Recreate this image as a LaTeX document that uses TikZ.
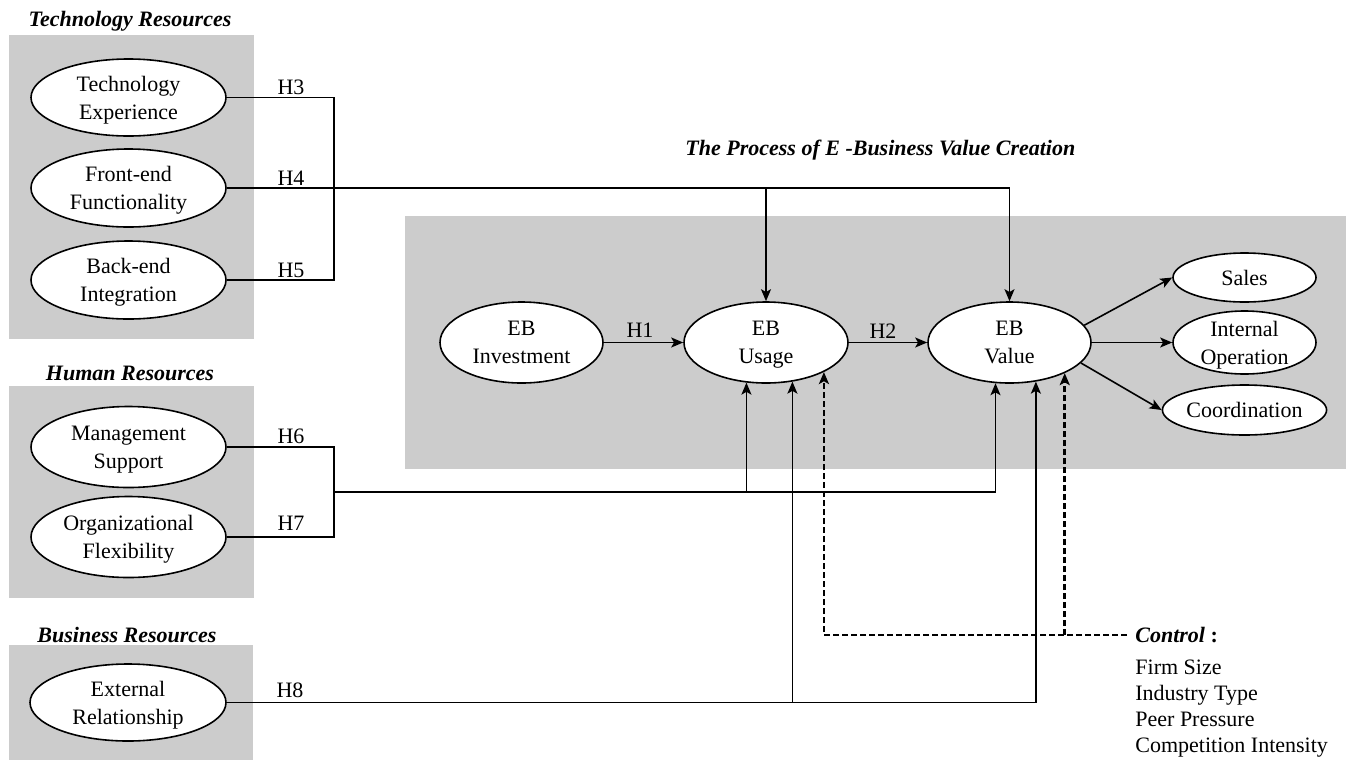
\documentclass[tikz,border=0pt]{standalone}
\usepackage{fontspec}
\setmainfont{Liberation Serif}
\usetikzlibrary{shapes.geometric,arrows.meta}
\definecolor{panel}{RGB}{204,204,204}
\newcommand\lastl[1]{\raisebox{0pt}[\height][0pt]{#1}}
\begin{document}
\begin{tikzpicture}[x=0.5pt,y=-0.5pt,
  ov/.style 2 args={ellipse,draw,fill=white,line width=0.8pt,
    minimum width=#1*0.5pt,minimum height=#2*0.5pt,inner sep=0pt,
    align=center,font=\fontsize{11}{14}\selectfont},
  ttl/.style={inner sep=0pt,font=\fontsize{11}{13}\selectfont\bfseries\itshape},
  hl/.style={inner sep=0pt,font=\fontsize{11}{13}\selectfont},
  ln/.style={line width=0.8pt},
  arr/.style={line width=0.8pt,-{Stealth[length=6pt,width=5pt,inset=1.4pt]}},
  dsh/.style={line width=1.4pt,dash pattern=on 3pt off 1.5pt,-{Stealth[length=6pt,width=5pt,inset=1.4pt]}}
]
\useasboundingbox (0,0) rectangle (1349,761);
\fill[white] (0,0) rectangle (1349,761);
% panels
\fill[panel] (9,35) rectangle (254,339);
\fill[panel] (9,386) rectangle (254,598);
\fill[panel] (9,645) rectangle (253,760);
\fill[panel] (405,216) rectangle (1346,469);
% titles
\node[ttl] (ttr) at (130,21) {Technology Resources};
\node[ttl] (thr) at (130,373) {Human Resources};
\node[ttl] (tbr) at (127,635) {Business Resources};
\node[ttl,anchor=west] (tpr) at (685,150) {The Process of E -Business Value Creation};
% resource ellipses
\node[ov={195}{77}] (te) at (128.5,97.5) {Technology\\\lastl{Experience}};
\node[ov={195}{78}] (fe) at (128.5,188) {Front-end\\\lastl{Functionality}};
\node[ov={195}{78}] (be) at (128.5,280) {Back-end\\\lastl{Integration}};
\node[ov={195}{81}] (ms) at (128.5,447) {Management\\\lastl{Support}};
\node[ov={195}{81}] (of) at (128.5,537) {Organizational\\\lastl{Flexibility}};
\node[ov={196}{77}] (er) at (128,702.5) {External\\\lastl{Relationship}};
% process ellipses
\node[ov={163}{81}] (ebi) at (521.5,342.5) {EB\\\lastl{Investment}};
\node[ov={164}{81}] (ebu) at (766,342.5) {EB\\\lastl{Usage}};
\node[ov={163}{81}] (ebv) at (1009.5,342.5) {EB\\\lastl{Value}};
\node[ov={143}{49}] (sales) at (1244.5,277.5) {Sales};
\node[ov={143}{63}] (io) at (1244.5,342.5) {Internal\\\lastl{Operation}};
\node[ov={143}{50}] (co) at (1244.5,410) {Coordination};
% control
\node[anchor=west,inner xsep=4pt,inner ysep=0pt,font=\fontsize{11}{13}\selectfont] (ctl) at (1127,635) {\textbf{\textit{Control}} \textbf{:}};
\node[anchor=north west,inner sep=0pt,align=left,font=\fontsize{11}{13}\selectfont] (cl) at (1135,660) {Firm Size\\Industry Type\\Peer Pressure\\Competition Intensity};
% junction coordinates
\coordinate (jt) at (334,190);
\coordinate (jh) at (334,492);
% technology connectors
\draw[ln] (te.east) -| (jt) |- (be.east);
\draw[arr] (fe.east) -| (ebv.north);
\draw[arr] (ebu.north |- fe.east) -- (ebu.north);
% human connectors
\draw[ln] (ms.east) -| (jh) |- (of.east);
\draw[arr] (jh) -| (ebv.251.3);
\draw[arr] (ebu.244.25 |- jh) -- (ebu.244.25);
% business connectors
\draw[arr] (er.east) -| (ebv.304.7);
\draw[arr] (ebu.304.1 |- er.east) -- (ebu.304.1);
% control
\draw[dsh] (ctl.west) -| (ebu.333);
\draw[dsh] (ebv.331.9 |- ctl.west) -- (ebv.331.9);
% process
\draw[arr] (ebi) -- (ebu);
\draw[arr] (ebu) -- (ebv);
\draw[arr] (ebv.13) -- (sales.west);
\draw[arr] (ebv.east) -- (io.west);
\draw[arr] (ebv.-16) -- (co.west);
% hypothesis labels
\node[hl] (h3) at (291,87.5) {H3};
\node[hl] (h4) at (291,178.5) {H4};
\node[hl] (h5) at (291,270.5) {H5};
\node[hl] (h6) at (291,436) {H6};
\node[hl] (h7) at (291,523) {H7};
\node[hl] (h8) at (290,690) {H8};
\node[hl] (h1) at (640,330) {H1};
\node[hl] (h2) at (883,331) {H2};
\end{tikzpicture}
\end{document}
